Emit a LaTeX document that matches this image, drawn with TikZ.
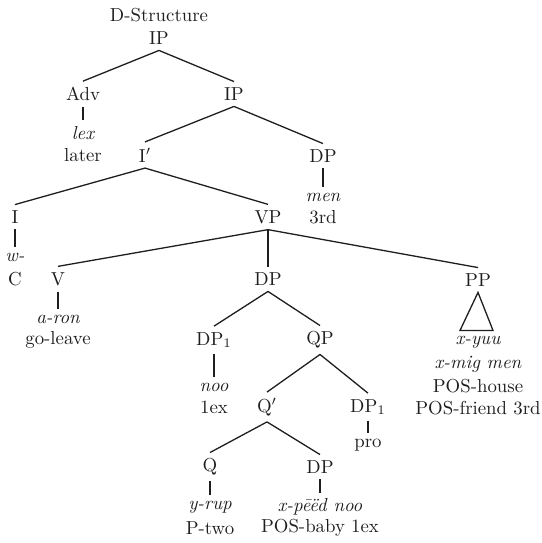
\documentclass[tikz,border=0pt]{standalone}
\usepackage{tikz}
\usetikzlibrary{calc}
\definecolor{ink}{RGB}{30,30,30}
\begin{document}
\begin{tikzpicture}[x=1pt,y=-1pt,
  every node/.style={inner sep=0pt,outer sep=3.2pt,text=ink,scale=1.88,
    font=\fontsize{10}{12}\selectfont},
  branch/.style={draw=ink,line width=1.3pt},
  lexit/.style={font=\fontsize{10}{12}\selectfont\itshape}]
\useasboundingbox (0,0) rectangle (541,543);

% labels
\node (ds) at (159,15) {D-Structure};
\node (ip0) at (159,38) {IP};
\node (adv) at (83,94) {Adv};
\node[lexit] (lexa) at (83,133) {lex};
\node (later) at (83,155) {later};
\node (ip1) at (234,94) {IP};
\node (ibar) at (145,155) {I$'$};
\node (dp0) at (323,156) {DP};
\node[lexit] (men) at (323,197) {men};
\node (third) at (323,217) {3rd};
\node (i) at (15,217) {I};
\node[lexit] (w) at (15,257) {w-};
\node (c) at (15,279) {C};
\node (vp) at (268,217) {VP};
\node (v) at (58,279) {V};
\node[lexit] (aron) at (58,319) {a-ron};
\node (goleave) at (58,340) {go-leave};
\node (dp2) at (268,279) {DP};
\node (pp) at (478,280) {PP};
\node[lexit] (xyuu) at (478,342) {x-yuu};
\node[lexit] (xmig) at (478,364) {x-mig men};
\node (poshouse) at (478,386) {POS-house};
\node (posfriend) at (478,408) {POS-friend 3rd};
\node (dpa) at (214,340) {DP$_1$};
\node[lexit] (noo) at (214,387) {noo};
\node (oneex) at (214,407) {1ex};
\node (qp) at (320,340) {QP};
\node (qbar) at (267,407) {Q$'$};
\node (dpb) at (368,407) {DP$_1$};
\node (pro) at (368,445) {pro};
\node (q) at (210,467) {Q};
\node (dp3) at (320,467) {DP};
\node[lexit] (yrup) at (210,507) {y-rup};
\node (ptwo) at (210,528) {P-two};
\node[lexit] (xpeed) at (320,507) {x-p\=e\"ed noo};
\node (posbaby) at (320,528) {POS-baby 1ex};

% branches
\draw[branch] (ip0.south) -- (adv.north);
\draw[branch] (ip0.south) -- (ip1.north);
\draw[branch] (adv.south) -- (lexa.north);
\draw[branch] (ip1.south) -- (ibar.north);
\draw[branch] (ip1.south) -- (dp0.north);
\draw[branch] (dp0.south) -- (men.north);
\draw[branch] (ibar.south) -- (i.north);
\draw[branch] (ibar.south) -- (vp.north);
\draw[branch] (i.south) -- (w.north);
\draw[branch] (vp.south) -- (v.north);
\draw[branch] (vp.south) -- (dp2.north);
\draw[branch] (vp.south) -- (pp.north);
\draw[branch] (v.south) -- (aron.north);
\draw[branch] (dp2.south) -- (dpa.north);
\draw[branch] (dp2.south) -- (qp.north);
\draw[branch] (dpa.south) -- (noo.north);
\draw[branch] (qp.south) -- (qbar.north);
\draw[branch] (qp.south) -- (dpb.north);
\draw[branch] (dpb.south) -- (pro.north);
\draw[branch] (qbar.south) -- (q.north);
\draw[branch] (qbar.south) -- (dp3.north);
\draw[branch] (q.south) -- (yrup.north);
\draw[branch] (dp3.south) -- (xpeed.north);

% triangle over the PP yield
\coordinate (tl) at ($(pp.south)+(-18,38)$);
\coordinate (tr) at ($(pp.south)+(15,38)$);
\draw[branch,line join=miter] (pp.south) -- (tl) -- (tr) -- cycle;
\end{tikzpicture}
\end{document}
